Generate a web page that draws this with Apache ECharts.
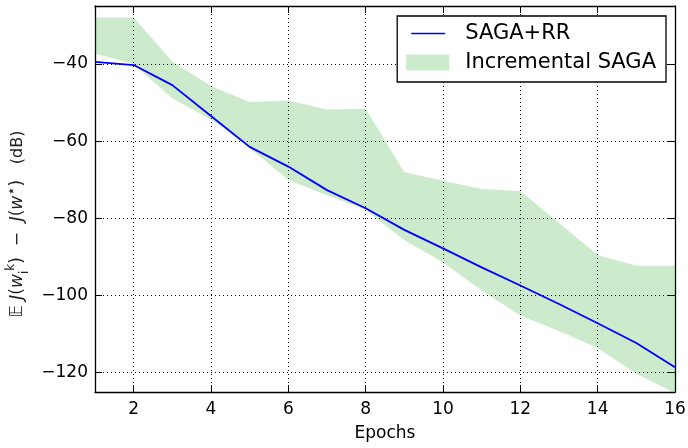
<!DOCTYPE html>
<html>
<head>
<meta charset="utf-8">
<script src="https://cdn.jsdelivr.net/npm/echarts@6/dist/echarts.min.js"></script>
<style>
  html, body { margin: 0; padding: 0; background: #fff; }
  #chart { width: 688px; height: 448px; }
</style>
</head>
<body>
<div id="chart"></div>
<script>
// Epoch index (x axis)
const epochs = [1, 2, 3, 4, 5, 6, 7, 8, 9, 10, 11, 12, 13, 14, 15, 16];
// SAGA with random reshuffling, excess risk in dB
const sagaRR = [-39.5, -40.3, -45.5, -53.5, -61.5, -66.6, -72.7, -77.4, -83.0, -87.8, -92.7, -97.4, -102.2, -107.2, -112.3, -118.6];
// Incremental SAGA: spread over runs (upper / lower envelope)
const incUpper = [-28.0, -28.0, -39.4, -45.7, -49.9, -49.5, -51.8, -51.6, -68.1, -70.3, -72.4, -72.9, -81.2, -89.5, -92.3, -92.3];
const incLower = [-37.3, -40.1, -48.9, -54.4, -61.8, -70.1, -74.0, -77.8, -85.7, -91.4, -98.7, -105.2, -109.2, -113.6, -120.3, -125.3];
// Tick positions
const xTicks = [2, 4, 6, 8, 10, 12, 14, 16];
const yTicks = [-120, -100, -80, -60, -40];

const FONT = 'DejaVu Sans';
const bandColor = 'rgba(0, 150, 0, 0.2)';
const lineBlue = '#0000ff';

const chart = echarts.init(document.getElementById('chart'), null, { renderer: 'canvas' });

const axisLineStyle = { show: true, lineStyle: { color: '#000', width: 1.3 } };
const tickStyle = { show: true, inside: true, length: 7, lineStyle: { color: '#000', width: 1 } };
const gridLine = { show: true, lineStyle: { color: '#000', width: 1, type: [1, 3] } };

// rich-text pieces for the y-axis math label
const mathBase = { fontFamily: FONT, fontSize: 17, color: '#222', lineHeight: 26, verticalAlign: 'middle' };
const nameRich = {
  n: Object.assign({}, mathBase),
  unit: Object.assign({}, mathBase, { fontSize: 16 }),
  it: Object.assign({}, mathBase, { fontStyle: 'italic' }),
  sup: Object.assign({}, mathBase, { fontSize: 12, lineHeight: 13, verticalAlign: 'top' }),
  star: Object.assign({}, mathBase, { fontSize: 15, lineHeight: 15, verticalAlign: 'top' }),
  sub: Object.assign({}, mathBase, { fontSize: 12, lineHeight: 12, verticalAlign: 'bottom' })
};

// thin bar used as the legend glyph of the line series (outer moves fix the icon box)
const lineIcon = 'path://M0,0 M43,16 M5,7.2 H39 V8.8 H5 Z';

const option = {
  animation: false,
  backgroundColor: '#fff',
  grid: { left: 95, right: 13, top: 6, bottom: 56, containLabel: false, outerBoundsMode: 'none' },
  legend: {
    orient: 'vertical',
    right: 22,
    top: 16,
    padding: [7, 10, 9, 9],
    itemGap: 8,
    itemWidth: 43,
    itemHeight: 16,
    borderColor: '#000',
    borderWidth: 1.3,
    borderRadius: 0,
    backgroundColor: '#fff',
    textStyle: { fontFamily: FONT, fontSize: 21, color: '#000', padding: [0, 0, 0, 11] },
    data: [
      { name: 'SAGA+RR', icon: lineIcon },
      { name: 'Incremental SAGA', icon: 'rect' }
    ]
  },
  xAxis: [
    {
      type: 'value', min: 1, max: 16, position: 'bottom',
      name: 'Epochs', nameLocation: 'middle', nameGap: 33,
      nameTextStyle: { fontFamily: FONT, fontSize: 17, color: '#000' },
      axisLine: axisLineStyle,
      axisTick: Object.assign({}, tickStyle, { customValues: xTicks }),
      axisLabel: { customValues: xTicks, fontFamily: FONT, fontSize: 17, color: '#000', margin: 9 },
      splitLine: gridLine
    },
    {
      type: 'value', min: 1, max: 16, position: 'top',
      axisLine: axisLineStyle,
      axisTick: Object.assign({}, tickStyle, { customValues: xTicks }),
      axisLabel: { show: false },
      splitLine: { show: false }
    }
  ],
  yAxis: [
    {
      type: 'value', min: -125, max: -25, position: 'left',
      name: '{n|𝔼 }{it|J}{n|(}{it|w}{sub|i}{sup|k}{n|)  −  }{it|J}{n|(}{it|w}{star|⋆}{n|) }{unit|  (dB)}',
      nameLocation: 'middle', nameGap: 54, nameRotate: 90,
      nameTextStyle: { rich: nameRich, padding: [0, 50, 0, 0] },
      axisLine: axisLineStyle,
      axisTick: Object.assign({}, tickStyle, { customValues: yTicks }),
      axisLabel: {
        customValues: yTicks, fontFamily: FONT, fontSize: 17, color: '#000', margin: 7,
        formatter: v => (v < 0 ? '\u2212' + Math.abs(v) : String(v))
      },
      splitLine: gridLine
    },
    {
      type: 'value', min: -125, max: -25, position: 'right',
      axisLine: axisLineStyle,
      axisTick: Object.assign({}, tickStyle, { customValues: yTicks }),
      axisLabel: { show: false },
      splitLine: { show: false }
    }
  ],
  series: [
    {
      name: 'Incremental SAGA',
      type: 'custom',
      xAxisIndex: 0,
      yAxisIndex: 0,
      clip: true,
      itemStyle: { color: bandColor },
      data: [[epochs[0], incUpper[0]]],
      renderItem: function (params, api) {
        const top = epochs.map((e, k) => api.coord([e, incUpper[k]]));
        const bottom = epochs.map((e, k) => api.coord([e, incLower[k]])).reverse();
        return {
          type: 'polygon',
          shape: { points: top.concat(bottom) },
          style: { fill: bandColor, stroke: null }
        };
      },
      z: 1
    },
    {
      name: 'SAGA+RR',
      type: 'line',
      xAxisIndex: 0,
      yAxisIndex: 0,
      symbol: 'none',
      clip: true,
      data: epochs.map((e, k) => [e, sagaRR[k]]),
      lineStyle: { color: lineBlue, width: 1.8 },
      itemStyle: { color: lineBlue },
      z: 3
    }
  ]
};

chart.setOption(option);
</script>
</body>
</html>
